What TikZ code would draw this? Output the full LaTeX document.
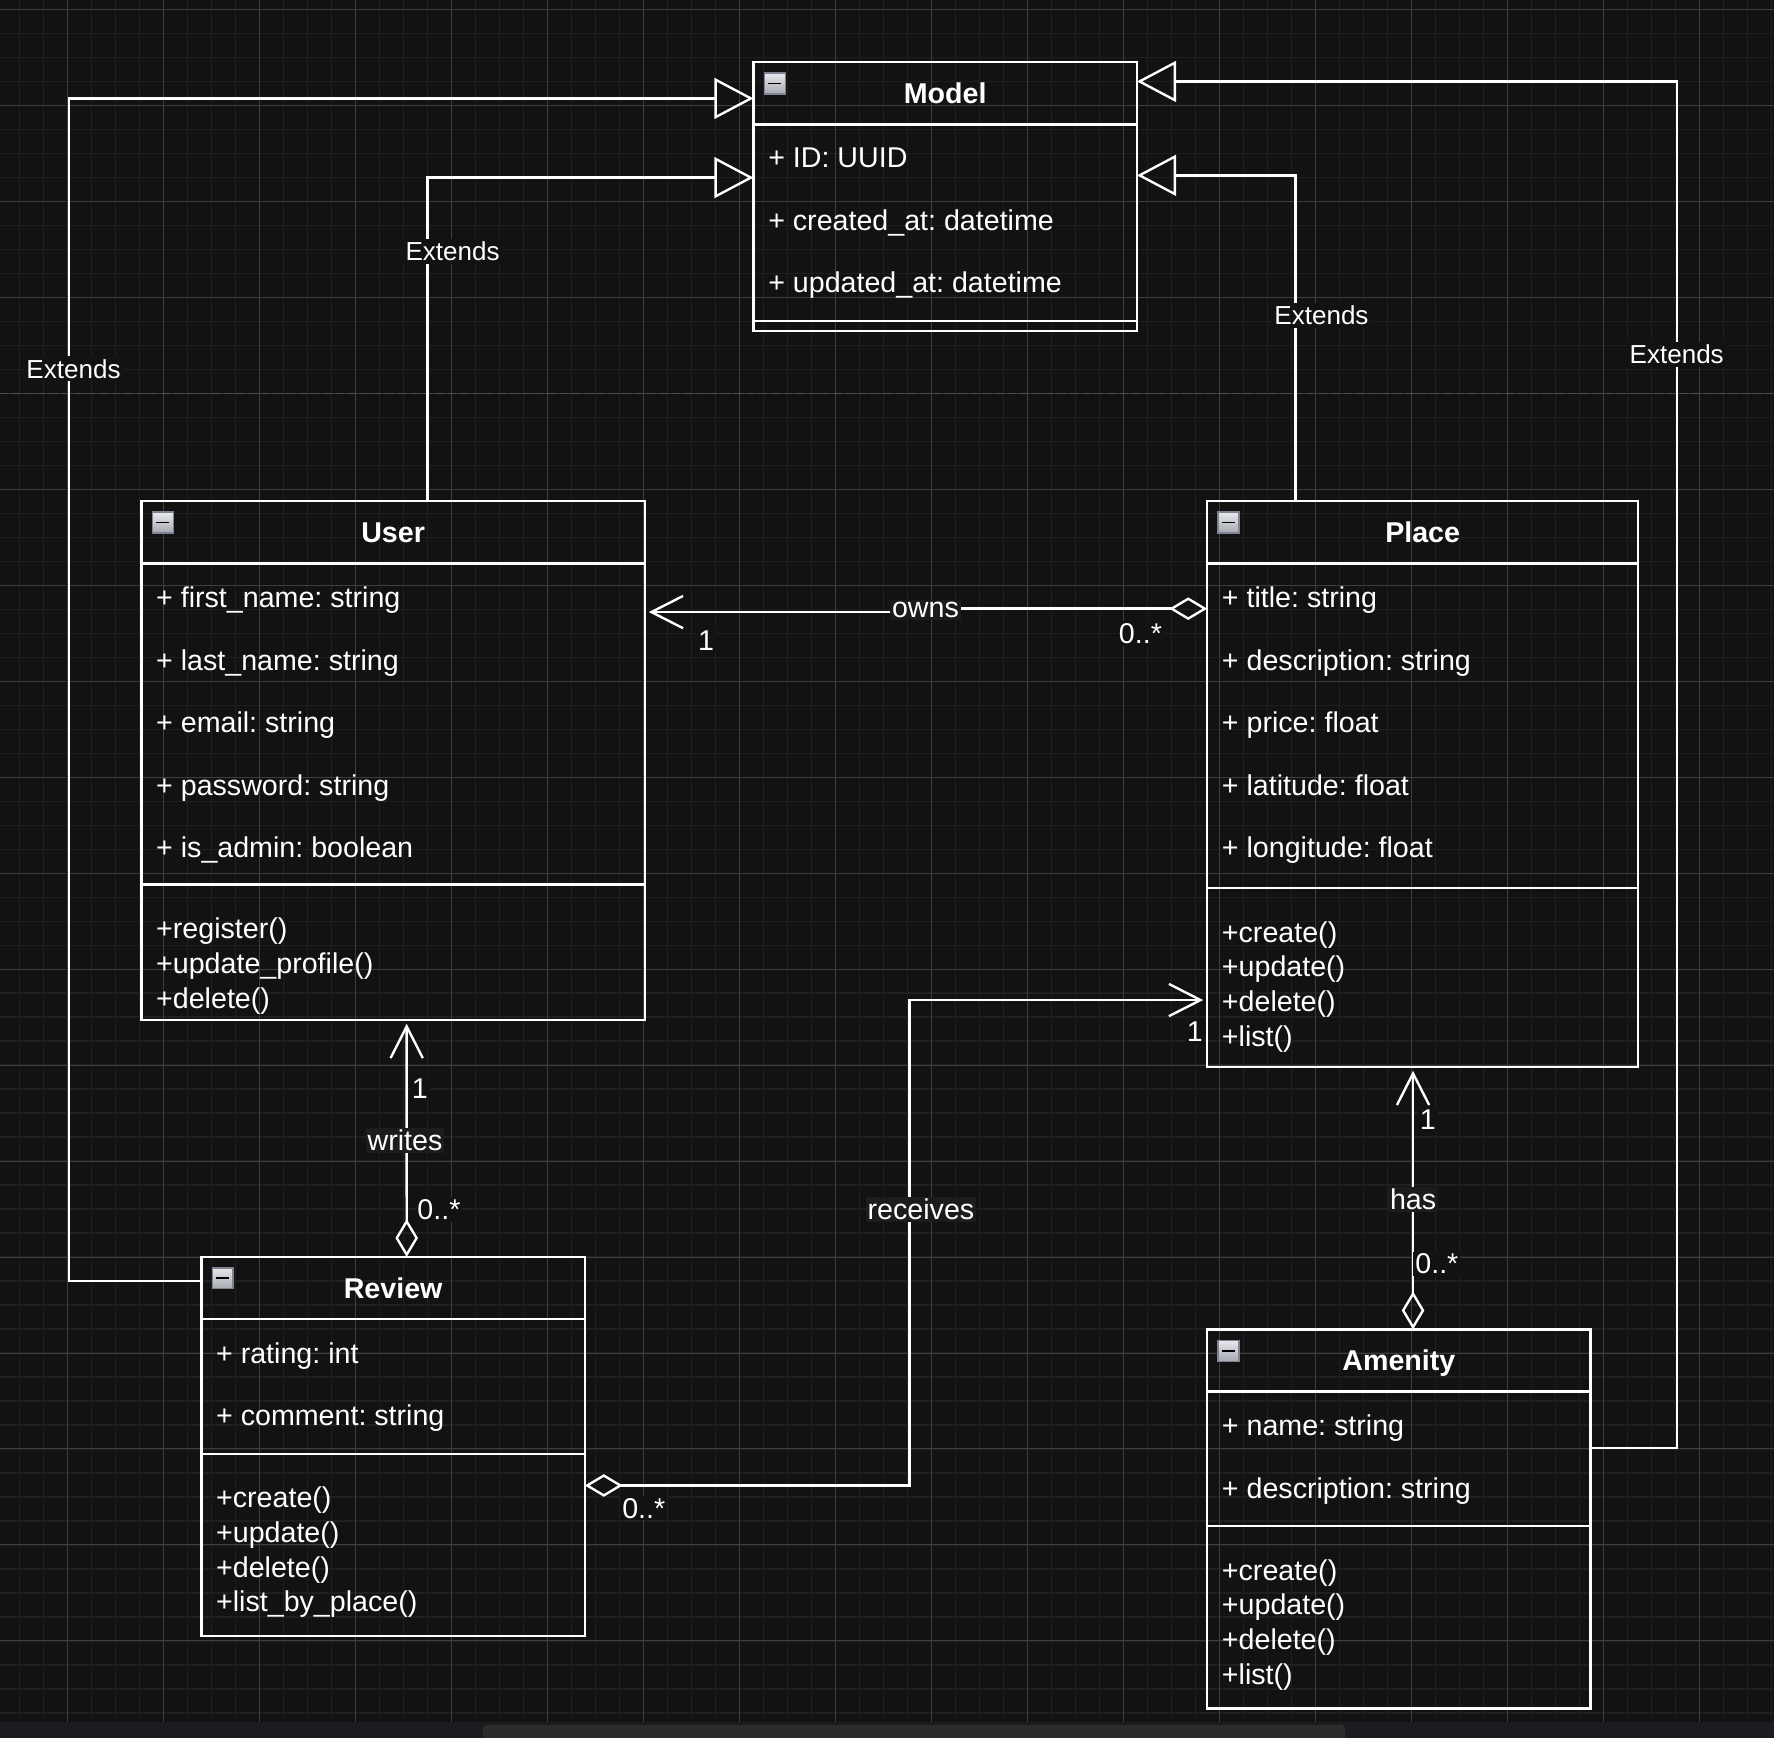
\documentclass[tikz,border=0pt]{standalone}
\usepackage{fontspec}
\setmainfont{Liberation Sans}
\usetikzlibrary{arrows.meta,positioning}
\definecolor{canvas}{RGB}{18,18,18}
\definecolor{minorline}{RGB}{31,31,31}
\definecolor{majorline}{RGB}{62,62,62}
\definecolor{pagebreak}{RGB}{78,78,78}
\definecolor{strip}{RGB}{27,28,31}
\definecolor{scroll}{RGB}{44,44,44}
\definecolor{lblbg}{RGB}{27,28,30}
\definecolor{iconrim}{RGB}{128,132,146}
\frenchspacing

\begin{document}
\begin{tikzpicture}[x=0.02cm,y=-0.02cm,white,line width=1.2pt]
\tikzstyle{classhead} = [draw=white,anchor=north west,minimum height=1.1cm,inner sep=0pt,outer sep=0pt,text depth=0pt,font=\fontsize{14.4}{17}\selectfont\bfseries]
\tikzstyle{compart} = [draw=white,inner sep=0pt,outer sep=0pt]
\tikzstyle{attrs} = [inner sep=0pt,align=left,font=\fontsize{14.4}{31.5}\selectfont]
\tikzstyle{ops} = [inner sep=0pt,align=left,font=\fontsize{14.4}{17.4}\selectfont]
\tikzstyle{foldicon} = [draw=iconrim,line width=0.7pt,top color={rgb,255:red,232;green,233;blue,236},bottom color={rgb,255:red,166;green,168;blue,176},minimum size=0.37cm,inner sep=0pt,
  path picture={\draw[black,line width=0.9pt] ([xshift=0.07cm]path picture bounding box.west) -- ([xshift=-0.07cm]path picture bounding box.east);}]
\tikzstyle{relname} = [fill=lblbg,inner sep=1pt,font=\fontsize{14.4}{17}\selectfont]
\tikzstyle{extname} = [fill=canvas,inner sep=1.5pt,font=\fontsize{13.1}{15}\selectfont]
\tikzstyle{mult} = [fill=canvas,inner sep=1pt,font=\fontsize{14.4}{17}\selectfont]
\tikzstyle{extends} = [-{Triangle[open,length=0.69cm,width=0.72cm]}]
\tikzstyle{assoc} = [{Diamond[open,length=0.67cm,width=0.4cm]}-{Straight Barb[length=0.56cm,width=0.57cm]},shorten >=2pt]

    % canvas
    \useasboundingbox (0,0) rectangle (1568,1536);
    \fill[canvas] (0,0) rectangle (1568,1521.7);
    \fill[strip] (0,1521.7) rectangle (1568,1536);
    \fill[scroll,rounded corners=0.06cm] (427,1524.7) rectangle (1189,1545);
    \begin{scope}
      \clip (0,0) rectangle (1568,1521.7);
      \draw[minorline,line width=0.7pt,step=0.4243cm,shift={(17.38,8.2)}] (-40,-40) grid (1580,1540);
      \draw[majorline,line width=0.5pt,step=1.697cm,shift={(59.8,8.2)}] (-100,-100) grid (1600,1600);
      \draw[pagebreak,line width=0.6pt,dash pattern=on 0.14cm off 0.08cm] (0,348) -- (1568,348);
    \end{scope}

    % classes
    \node[classhead,minimum width=6.78cm] (model) at (666,55) {Model};
    \node[compart,minimum width=6.78cm,minimum height=3.48cm,below=0pt of model] (model-attr) {};
    \node[compart,minimum width=6.78cm,minimum height=0.17cm,below=0pt of model-attr] (model-ops) {};
    \node[foldicon,below right=0.18cm and 0.18cm of model.north west] (model-fold) {};
    \node[attrs,below right=0.39cm and 0.24cm of model-attr.north west] (model-list) {+ ID: UUID\\+ created\_at: datetime\\+ updated\_at: datetime};

    \node[classhead,minimum width=8.9cm] (user) at (125,443) {User};
    \node[compart,minimum width=8.9cm,minimum height=5.68cm,below=0pt of user] (user-attr) {};
    \node[compart,minimum width=8.9cm,minimum height=2.39cm,below=0pt of user-attr] (user-ops) {};
    \node[foldicon,below right=0.18cm and 0.18cm of user.north west] (user-fold) {};
    \node[attrs,below right=0.39cm and 0.24cm of user-attr.north west] (user-list) {+ first\_name: string\\+ last\_name: string\\+ email: string\\+ password: string\\+ is\_admin: boolean};
    \node[ops,below right=0.57cm and 0.24cm of user-ops.north west] (user-meth) {+register()\\+update\_profile()\\+delete()};

    \node[classhead,minimum width=7.62cm] (place) at (1067,443) {Place};
    \node[compart,minimum width=7.62cm,minimum height=5.74cm,below=0pt of place] (place-attr) {};
    \node[compart,minimum width=7.62cm,minimum height=3.16cm,below=0pt of place-attr] (place-ops) {};
    \node[foldicon,below right=0.18cm and 0.18cm of place.north west] (place-fold) {};
    \node[attrs,below right=0.39cm and 0.24cm of place-attr.north west] (place-list) {+ title: string\\+ description: string\\+ price: float\\+ latitude: float\\+ longitude: float};
    \node[ops,below right=0.57cm and 0.24cm of place-ops.north west] (place-meth) {+create()\\+update()\\+delete()\\+list()};

    \node[classhead,minimum width=6.78cm] (review) at (178,1111) {Review};
    \node[compart,minimum width=6.78cm,minimum height=2.38cm,below=0pt of review] (review-attr) {};
    \node[compart,minimum width=6.78cm,minimum height=3.22cm,below=0pt of review-attr] (review-ops) {};
    \node[foldicon,below right=0.18cm and 0.18cm of review.north west] (review-fold) {};
    \node[attrs,below right=0.39cm and 0.24cm of review-attr.north west] (review-list) {+ rating: int\\+ comment: string};
    \node[ops,below right=0.57cm and 0.24cm of review-ops.north west] (review-meth) {+create()\\+update()\\+delete()\\+list\_by\_place()};

    \node[classhead,minimum width=6.78cm] (amenity) at (1067,1175) {Amenity};
    \node[compart,minimum width=6.78cm,minimum height=2.38cm,below=0pt of amenity] (amenity-attr) {};
    \node[compart,minimum width=6.78cm,minimum height=3.22cm,below=0pt of amenity-attr] (amenity-ops) {};
    \node[foldicon,below right=0.18cm and 0.18cm of amenity.north west] (amenity-fold) {};
    \node[attrs,below right=0.39cm and 0.24cm of amenity-attr.north west] (amenity-list) {+ name: string\\+ description: string};
    \node[ops,below right=0.57cm and 0.24cm of amenity-ops.north west] (amenity-meth) {+create()\\+update()\\+delete()\\+list()};

    % generalisations
    \coordinate (bendReview) at (61,326);
    \coordinate (bendAmenity) at (1482,313);
    \draw[extends] ([yshift=0.13cm]review.west) -| (bendReview) |- ([yshift=-0.09cm]model.west);
    \draw[extends] ([xshift=5.06cm]user.north west) |- ([yshift=-0.94cm]model-attr.north west);
    \draw[extends] ([xshift=1.56cm]place.north west) |- ([yshift=-0.9cm]model-attr.north east);
    \draw[extends] ([yshift=-1cm]amenity-attr.north east) -| (bendAmenity) |- ([yshift=0.21cm]model.east);
    \node[extname] (ext-review) at (65,326) {Extends};
    \node[extname] (ext-user) at (400,222) {Extends};
    \node[extname] (ext-place) at (1168,279) {Extends};
    \node[extname] (ext-amenity) at (1482,313) {Extends};

    % associations
    \coordinate (bendOwns) at (818,540);
    \coordinate (bendRecv) at (804,1069);
    \draw[assoc] ([yshift=-0.8cm]place-attr.north west) -| (bendOwns) |- ([yshift=-0.86cm]user-attr.north east);
    \draw[assoc] ([xshift=3.63cm]review.north west) -- ([xshift=4.69cm]user-ops.south west);
    \draw[assoc] ([yshift=-0.56cm]review-ops.north east) -| (bendRecv) |- ([yshift=-1.98cm]place-ops.north west);
    \draw[assoc] ([xshift=3.64cm]amenity.north west) -- ([xshift=3.64cm]place-ops.south west);

    \node[relname] (owns) at (818,539) {owns};
    \node[mult] (owns-one) at (624,566) {1};
    \node[mult] (owns-many) at (1008,560) {0..*};
    \node[relname] (writes) at (358,1008) {writes};
    \node[mult] (writes-one) at (371,962) {1};
    \node[mult] (writes-many) at (388,1069) {0..*};
    \node[relname] (receives) at (814,1069) {receives};
    \node[mult] (recv-one) at (1056,912) {1};
    \node[mult] (recv-many) at (569,1333) {0..*};
    \node[relname] (has) at (1249,1060) {has};
    \node[mult] (has-one) at (1262,990) {1};
    \node[mult] (has-many) at (1270,1117) {0..*};
\end{tikzpicture}
\end{document}
